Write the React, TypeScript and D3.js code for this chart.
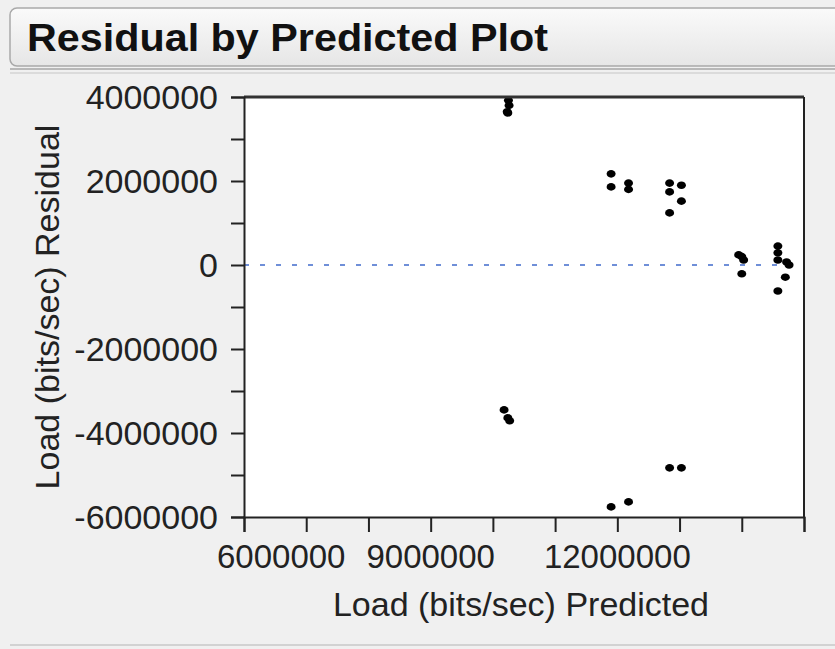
import * as d3 from 'd3';
import React, { useEffect, useRef } from 'react';

// Predicted load (bits/sec) for each observation
const predicted: number[] = [
  10250000, 10260000, 10230000, 10240000, 10180000, 10240000, 10270000,
  11900000, 11900000, 12180000, 12180000,
  12840000, 12840000, 12840000, 13030000, 13030000,
  11900000, 12180000, 12840000, 13030000,
  13950000, 14000000, 14030000, 14000000,
  14580000, 14580000, 14580000, 14720000, 14760000, 14700000, 14580000,
];

// Residual load (bits/sec) for each observation
const residual: number[] = [
  3920000, 3800000, 3650000, 3620000, -3450000, -3640000, -3710000,
  2170000, 1860000, 1950000, 1800000,
  1950000, 1740000, 1240000, 1900000, 1520000,
  -5760000, -5640000, -4830000, -4830000,
  240000, 200000, 120000, -210000,
  450000, 290000, 120000, 70000, 0, -290000, -620000,
];

const xTickLabels: number[] = [6000000, 9000000, 12000000];
const yTickLabels: number[] = [4000000, 2000000, 0, -2000000, -4000000, -6000000];

const ResidualPlot: React.FC = () => {
  const ref = useRef<SVGSVGElement | null>(null);
  const width = 835;
  const height = 649;

  useEffect(() => {
    if (!ref.current) return;
    const svg = d3.select(ref.current);
    svg.selectAll('*').remove();

    const font = 'Arial, "Liberation Sans", sans-serif';
    const margin = { top: 97, left: 244, right: 835 - 804, bottom: 649 - 517 };

    // page background
    svg.append('rect').attr('width', width).attr('height', height).attr('fill', '#f0f0f0');

    // title bar
    const grad = svg.append('defs').append('linearGradient').attr('id', 'tb').attr('x1', 0).attr('y1', 0).attr('x2', 0).attr('y2', 1);
    grad.append('stop').attr('offset', '0%').attr('stop-color', '#fafafa');
    grad.append('stop').attr('offset', '100%').attr('stop-color', '#e6e6e6');
    svg.append('rect')
      .attr('x', 10).attr('y', 8).attr('width', 840).attr('height', 58).attr('rx', 7)
      .attr('fill', 'url(#tb)').attr('stroke', '#a9a9a9').attr('stroke-width', 1.5);
    svg.append('text')
      .attr('x', 27).attr('y', 51)
      .attr('textLength', 521).attr('lengthAdjust', 'spacingAndGlyphs')
      .style('font-family', font).style('font-size', '38px').style('font-weight', 'bold')
      .attr('fill', '#111')
      .text('Residual by Predicted Plot');
    svg.append('line').attr('x1', 10).attr('x2', 835).attr('y1', 69).attr('y2', 69).attr('stroke', '#b8b8b8').attr('stroke-width', 2);
    svg.append('line').attr('x1', 10).attr('x2', 835).attr('y1', 73).attr('y2', 73).attr('stroke', '#d4d4d4').attr('stroke-width', 1.5);
    svg.append('line').attr('x1', 10).attr('x2', 835).attr('y1', 645).attr('y2', 645).attr('stroke', '#c8c8c8').attr('stroke-width', 1.5);

    const x = d3.scaleLinear().domain([6000000, 15000000]).range([margin.left, width - margin.right]);
    const y = d3.scaleLinear().domain([-6000000, 4000000]).range([height - margin.bottom, margin.top]);

    // plot area
    svg.append('rect')
      .attr('x', x(6000000)).attr('y', y(4000000))
      .attr('width', x(15000000) - x(6000000)).attr('height', y(-6000000) - y(4000000))
      .attr('fill', '#ffffff');

    // zero reference line
    svg.append('line')
      .attr('x1', x(6000000)).attr('x2', x(15000000)).attr('y1', y(0)).attr('y2', y(0))
      .attr('stroke', '#6f8fd8').attr('stroke-width', 2).attr('stroke-dasharray', '5,11');

    // points
    svg.append('g')
      .selectAll('ellipse')
      .data(predicted.map((p, i) => [p, residual[i]]))
      .enter()
      .append('ellipse')
      .attr('cx', (d) => x(d[0]))
      .attr('cy', (d) => y(d[1]))
      .attr('rx', 4.5)
      .attr('ry', 3.8)
      .attr('fill', '#000');

    // frame
    svg.append('line').attr('x1', x(6000000)).attr('x2', x(15000000)).attr('y1', y(4000000)).attr('y2', y(4000000)).attr('stroke', '#333').attr('stroke-width', 3);
    svg.append('line').attr('x1', x(15000000)).attr('x2', x(15000000)).attr('y1', y(4000000)).attr('y2', y(-6000000)).attr('stroke', '#222').attr('stroke-width', 2);

    // x axis
    const xAxis = svg.append('g')
      .attr('transform', `translate(0,${y(-6000000)})`)
      .call(d3.axisBottom(x).tickValues(d3.range(6000000, 15000001, 1000000)).tickSize(15).tickSizeOuter(15).tickFormat(() => ''));
    xAxis.selectAll('line').attr('stroke', '#222').attr('stroke-width', 2);
    xAxis.select('.domain').attr('stroke', '#222').attr('stroke-width', 2);

    svg.append('g')
      .selectAll('text')
      .data(xTickLabels)
      .enter()
      .append('text')
      .attr('x', (d) => (d === 6000000 ? 217 : x(d)))
      .attr('y', 568)
      .attr('text-anchor', (d) => (d === 6000000 ? 'start' : 'middle'))
      .style('font-family', font).style('font-size', '33px')
      .attr('fill', '#222')
      .text((d) => String(d));

    // y axis
    const yAxis = svg.append('g')
      .attr('transform', `translate(${x(6000000)},0)`)
      .call(d3.axisLeft(y).tickValues(d3.range(-6000000, 4000001, 1000000)).tickSize(13).tickSizeOuter(13).tickFormat(() => ''));
    yAxis.selectAll('line').attr('stroke', '#222').attr('stroke-width', 2);
    yAxis.select('.domain').attr('stroke', '#222').attr('stroke-width', 2);

    svg.append('g')
      .selectAll('text')
      .data(yTickLabels)
      .enter()
      .append('text')
      .attr('x', 218)
      .attr('y', (d) => y(d))
      .attr('dy', '0.36em')
      .attr('text-anchor', 'end')
      .style('font-family', font).style('font-size', '34px')
      .attr('fill', '#222')
      .text((d) => String(d));

    // axis titles
    svg.append('text')
      .attr('x', 521).attr('y', 616)
      .attr('text-anchor', 'middle')
      .style('font-family', font).style('font-size', '34px')
      .attr('fill', '#222')
      .text('Load (bits/sec) Predicted');
    svg.append('text')
      .attr('transform', `translate(59,${(y(4000000) + y(-6000000)) / 2}) rotate(-90)`)
      .attr('text-anchor', 'middle')
      .style('font-family', font).style('font-size', '34px')
      .attr('fill', '#222')
      .text('Load (bits/sec) Residual');
  }, []);

  return <svg ref={ref} width={width} height={height} style={{ position: 'absolute', left: 0, top: 0 }}></svg>;
};

export default function App() {
  return <ResidualPlot />;
}
